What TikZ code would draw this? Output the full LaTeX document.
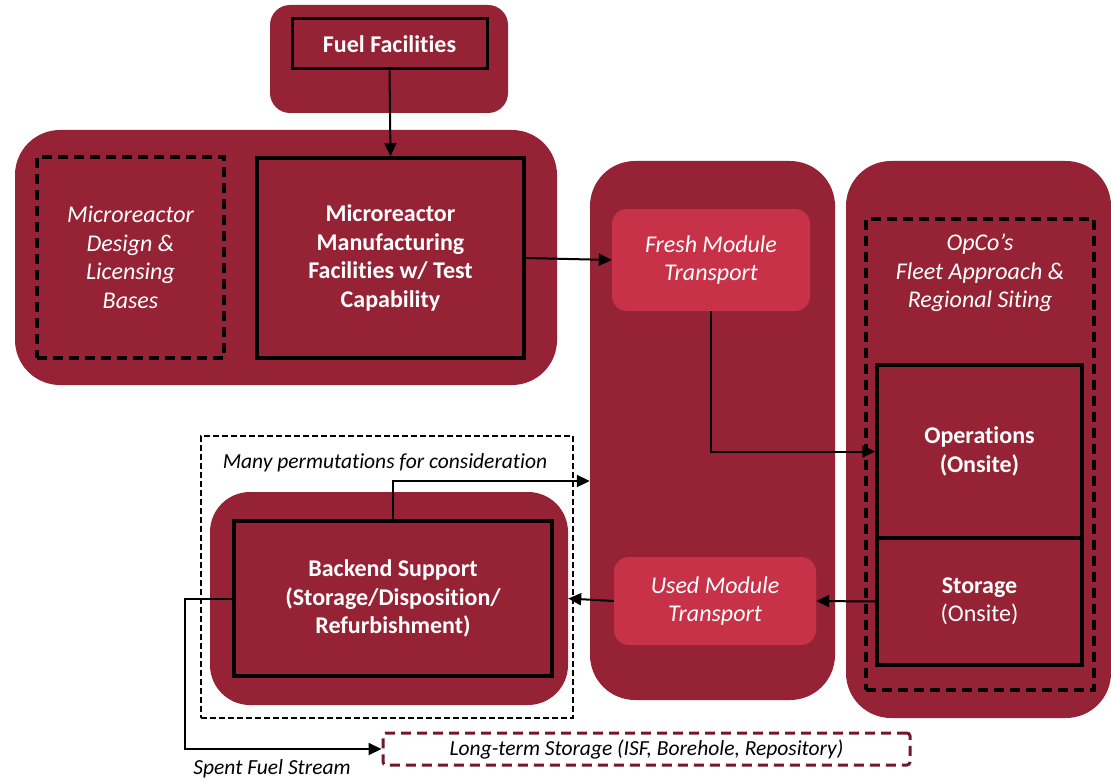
\documentclass[tikz,border=0pt]{standalone}
\usepackage{fontspec}
\setmainfont[Ligatures=NoCommon]{Carlito}
\usepackage{xcolor}
\usepackage{tikz}
\usetikzlibrary{arrows.meta}
\definecolor{dred}{RGB}{150,35,53}
\definecolor{lred}{RGB}{200,50,72}
\definecolor{maroon}{RGB}{110,26,42}
\newcommand\txtbig{\fontsize{24}{28.5}\selectfont}
\newcommand\txtsmall{\fontsize{21.5}{24}\selectfont}
\tikzstyle{panel}=[fill=dred,rounded corners=45pt,inner sep=0pt]
\tikzstyle{stage}=[draw=black,line width=3.5pt,fill=dred,text=white,align=center,inner sep=0pt,font=\txtbig\bfseries]
\tikzstyle{scope box}=[draw=black,line width=3.5pt,dash pattern=on 10pt off 6pt,align=center,text=white,inner sep=0pt,font=\txtbig\itshape]
\tikzstyle{transport}=[fill=lred,rounded corners=15pt,text=white,align=center,inner sep=0pt,font=\txtbig\itshape]
\tikzstyle{flow}=[line width=2pt,-{Triangle[length=13pt,width=12pt]}]

\begin{document}
\begin{tikzpicture}[x=1pt,y=-1pt]
	\useasboundingbox (0,0) rectangle (1111,781);
	% panels
	\node[panel,rounded corners=20pt,minimum width=238pt,minimum height=108pt] (fuelbg) at (389,59) {};
	\node[panel,minimum width=542pt,minimum height=255pt] (mfgbg) at (286,257.5) {};
	\node[panel,minimum width=245pt,minimum height=539pt] (transbg) at (712.5,430.5) {};
	\node[panel,minimum width=265pt,minimum height=557pt] (opbg) at (978.5,439.5) {};
	\node[draw=black,line width=1.5pt,dash pattern=on 6pt off 3pt,minimum width=372pt,minimum height=282pt] (perm) at (387,577) {};
	\node[panel,rounded corners=40pt,minimum width=358pt,minimum height=213pt] (backbg) at (389,598.5) {};
	% boxes
	\node[stage,line width=3pt,minimum width=195pt,minimum height=50pt] (fuel) at (389.5,44) {Fuel Facilities};
	\node[scope box,minimum width=187pt,minimum height=201pt] (design) at (130.5,257.5) {Microreactor\\Design \&\\Licensing\\Bases};
	\node[stage,minimum width=267pt,minimum height=200pt] (mfg) at (390.5,258) {Microreactor\\Manufacturing\\Facilities w/ Test\\Capability};
	\node[transport,minimum width=198pt,minimum height=102pt] (fresh) at (711,260) {Fresh Module\\Transport};
	\node[transport,minimum width=202pt,minimum height=88pt] (used) at (715,601) {Used Module\\Transport};
	\node[scope box,minimum width=228pt,minimum height=471pt] (fleet) at (980,454.5) {};
	\node[text=white,align=center,font=\txtbig\itshape] (fleetlab) at (980,273) {OpCo’s\\Fleet Approach \&\\Regional Siting};
	\node[stage,minimum width=205pt,minimum height=173pt] (ops) at (979.5,451.5) {Operations\\(Onsite)};
	\node[stage,minimum width=205pt,minimum height=127pt] (stor) at (979.5,601.5) {Storage\\\mdseries(Onsite)};
	\node[stage,minimum width=318pt,minimum height=155pt] (back) at (393,598.5) {Backend Support\\(Storage/Disposition/\\Refurbishment)};
	\node[draw=maroon,line width=3pt,dash pattern=on 10pt off 6pt,rounded corners=3pt,minimum width=527pt,minimum height=32pt,inner sep=0pt,font=\txtsmall\itshape] (lts) at (646.5,749) {Long-term Storage (ISF, Borehole, Repository)};
	\node[font=\txtsmall\itshape] (permlab) at (385,463) {Many permutations for consideration};
	\node[font=\txtsmall\itshape] (spent) at (272,769) {Spent Fuel Stream};
	% flows
	\draw[flow] (fuel.south) -- (mfg.north);
	\draw[flow] (mfg.east) -- (fresh.west);
	\draw[flow] (fresh.south) |- (ops.west);
	\draw[flow] (back.north) |- (transbg.west |- 0,481);
	\draw[flow] (stor.west) -- (used.east);
	\draw[flow] (used.west) -- (backbg.east);
	\draw[flow] (back.west) -- ++(-47,0) |- (lts.west);
\end{tikzpicture}
\end{document}
